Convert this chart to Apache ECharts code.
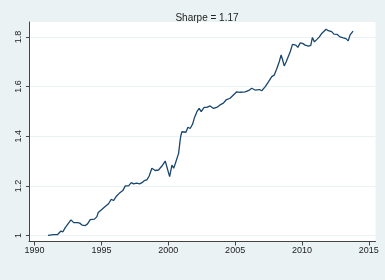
<!DOCTYPE html>
<html><head><meta charset="utf-8">
<script src="https://cdn.jsdelivr.net/npm/echarts@6/dist/echarts.min.js"></script>
<style>html,body{margin:0;padding:0;background:#eaf2f3}#c{width:385px;height:280px}</style>
</head><body><div id="c"></div>
<script>
const years = [1991.0,1991.42,1991.55,1991.72,1991.97,1992.12,1992.29,1992.42,1992.72,1992.92,1993.22,1993.37,1993.55,1993.79,1993.96,1994.16,1994.48,1994.66,1994.76,1994.98,1995.28,1995.53,1995.73,1995.9,1996.1,1996.33,1996.6,1996.78,1997.03,1997.23,1997.4,1997.65,1997.85,1998.03,1998.2,1998.4,1998.57,1998.77,1998.9,1999.02,1999.27,1999.4,1999.52,1999.77,1999.9,2000.1,2000.27,2000.4,2000.52,2000.65,2000.77,2000.89,2000.95,2001.02,2001.14,2001.32,2001.47,2001.64,2001.82,2001.94,2002.14,2002.31,2002.46,2002.68,2002.88,2003.13,2003.25,2003.38,2003.62,2003.87,2004.12,2004.32,2004.62,2004.87,2005.12,2005.37,2005.75,2006.07,2006.24,2006.49,2006.82,2006.99,2007.24,2007.49,2007.74,2007.92,2008.12,2008.3,2008.44,2008.54,2008.67,2008.82,2008.94,2009.12,2009.29,2009.42,2009.54,2009.69,2009.87,2010.04,2010.24,2010.49,2010.66,2010.78,2010.93,2011.1,2011.3,2011.48,2011.65,2011.8,2011.97,2012.22,2012.39,2012.64,2012.84,2013.09,2013.29,2013.46,2013.59,2013.82];
const values = [1.001,1.004,1.011,1.004,1.018,1.015,1.032,1.034,1.063,1.052,1.052,1.050,1.042,1.040,1.047,1.064,1.066,1.076,1.093,1.103,1.117,1.128,1.146,1.141,1.157,1.170,1.181,1.200,1.200,1.213,1.208,1.211,1.208,1.213,1.221,1.224,1.240,1.271,1.275,1.262,1.264,1.267,1.280,1.300,1.296,1.237,1.284,1.271,1.289,1.284,1.331,1.385,1.405,1.418,1.422,1.416,1.436,1.431,1.449,1.472,1.499,1.512,1.499,1.516,1.516,1.522,1.526,1.512,1.516,1.526,1.533,1.546,1.553,1.566,1.579,1.577,1.579,1.586,1.593,1.586,1.588,1.583,1.599,1.619,1.640,1.646,1.673,1.700,1.727,1.710,1.683,1.700,1.696,1.740,1.770,1.774,1.767,1.758,1.776,1.774,1.767,1.763,1.766,1.798,1.780,1.789,1.800,1.814,1.823,1.831,1.825,1.821,1.811,1.810,1.800,1.796,1.793,1.784,1.807,1.823];
const xTicks = [1990,1995,2000,2005,2010,2015];
const yTicks = [1,1.2,1.4,1.6,1.8];
const titleText = 'Sharpe = 1.17';

const chart = echarts.init(document.getElementById('c'), null, {renderer:'canvas'});
const font = 'Liberation Sans, Arial, Helvetica, sans-serif';
chart.setOption({
  backgroundColor:'#eaf2f3',
  animation:false,
  title:{text:titleText,left:202,top:8,textAlign:'center',textStyle:{fontFamily:font,fontSize:10,fontWeight:'normal',color:'#222'}},
  grid:{left:29,right:9.5,top:22,bottom:38.5,show:true,backgroundColor:'#fff',borderWidth:0,containLabel:false},
  xAxis:{type:'value',min:1989.58,max:2015.5,
    axisLine:{show:true,onZero:false,lineStyle:{color:'#444',width:1}},
    axisTick:{show:true,length:4,customValues:xTicks,lineStyle:{color:'#444'}},
    axisLabel:{customValues:xTicks,margin:5,fontFamily:font,fontSize:9,color:'#222',formatter:v=>String(Math.round(v))},
    splitLine:{show:false}},
  yAxis:{type:'value',min:0.976,max:1.86,
    axisLine:{show:true,lineStyle:{color:'#444',width:1}},
    axisTick:{show:true,length:3,customValues:yTicks,lineStyle:{color:'#444'}},
    axisLabel:{customValues:yTicks,rotate:90,margin:6,fontFamily:font,fontSize:9,color:'#222',formatter:v=>String(Math.round(v*10)/10)},
    splitLine:{show:true,lineStyle:{color:'#eaf2f3',width:1}}},
  series:[{type:'line',data:years.map((y,i)=>[y,values[i]]),showSymbol:false,lineStyle:{color:'#1a476f',width:1.3},itemStyle:{color:'#1a476f'}}]
});
</script></body></html>
